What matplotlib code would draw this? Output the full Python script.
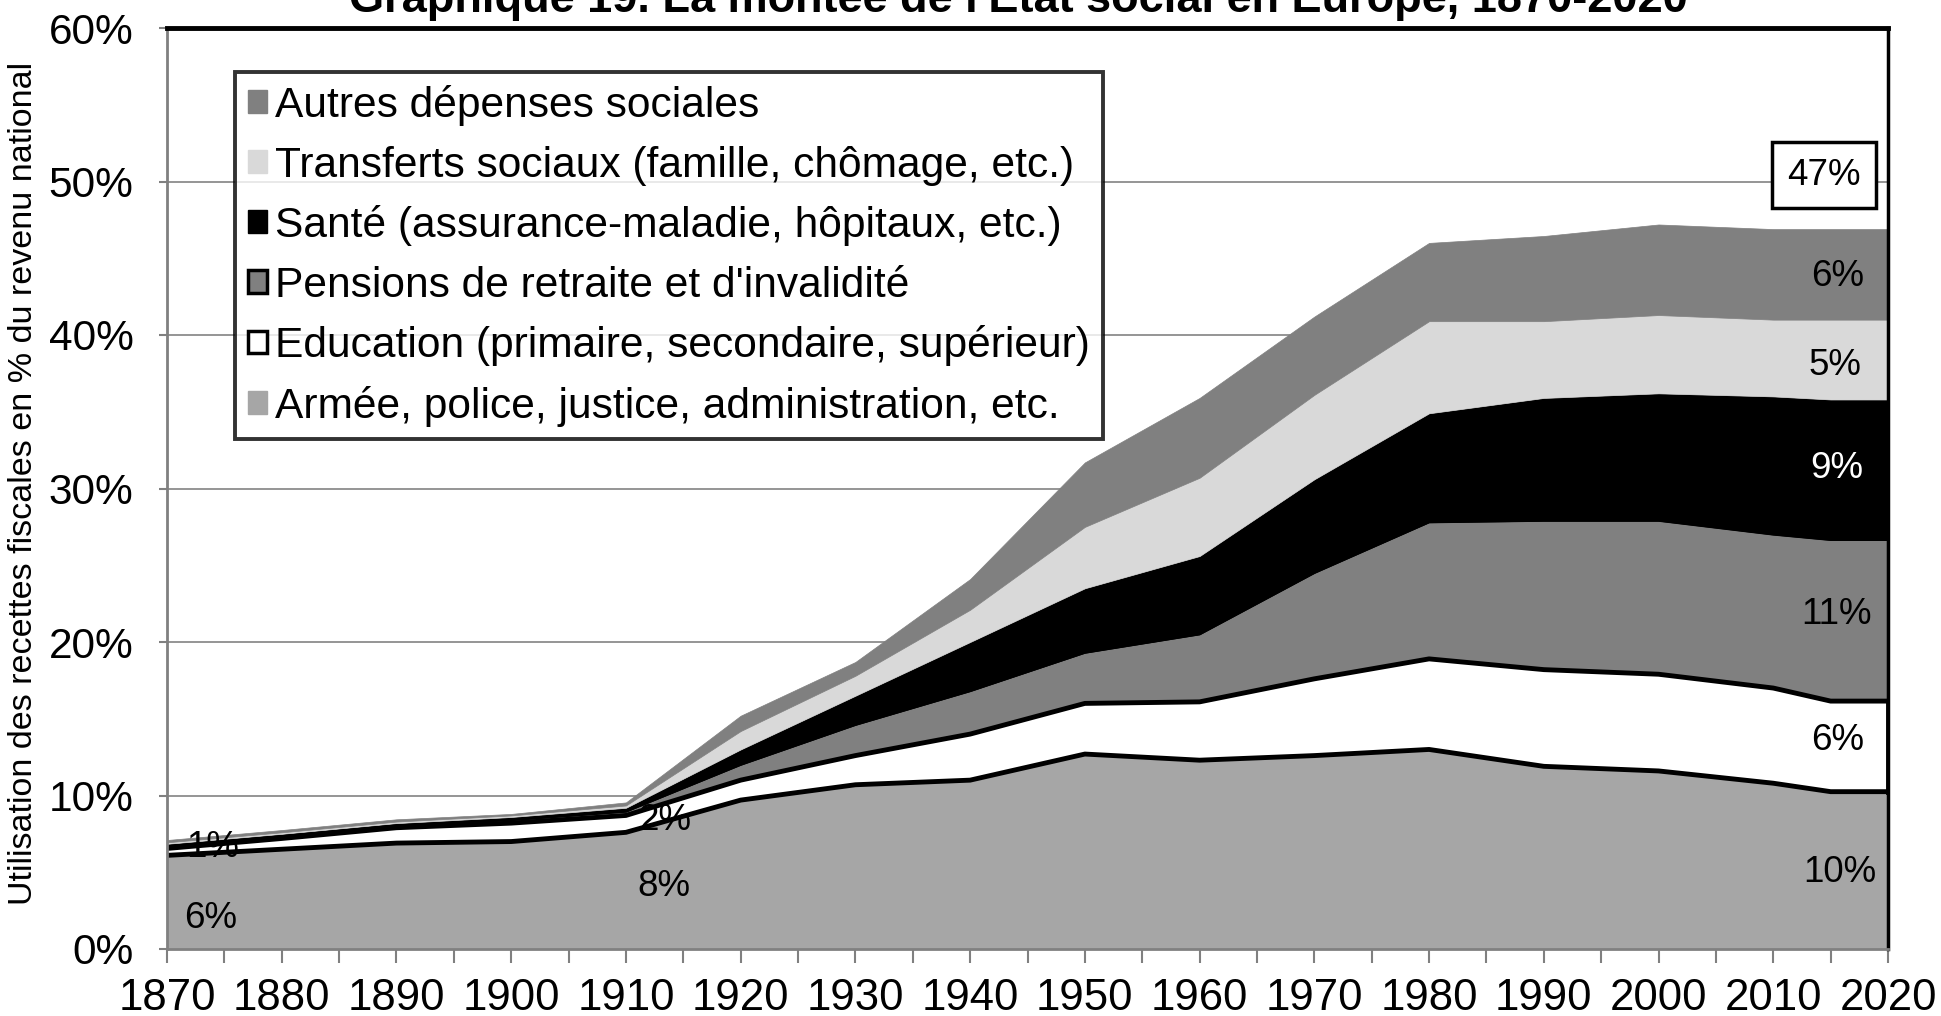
import matplotlib
matplotlib.use("Agg")
import matplotlib.pyplot as plt
from matplotlib.patches import Patch
import numpy as np

plt.rcParams['font.family'] = ['Liberation Sans', 'DejaVu Sans']

# ---------------- data (% of national income) ----------------
years = [1870, 1880, 1890, 1900, 1910, 1920, 1930, 1940, 1950, 1960,
         1970, 1980, 1990, 2000, 2010, 2015, 2020]
armee      = [6.1, 6.5, 6.9, 7.0, 7.6, 9.7, 10.7, 11.0, 12.7, 12.3, 12.6, 13.0, 11.9, 11.6, 10.8, 10.25, 10.25]
education  = [0.45, 0.7, 1.0, 1.2, 1.1, 1.3, 1.9, 3.0, 3.3, 3.8, 5.0, 5.9, 6.3, 6.3, 6.2, 5.9, 5.9]
pensions   = [0.15, 0.15, 0.15, 0.2, 0.25, 1.0, 2.0, 2.8, 3.3, 4.4, 6.9, 8.9, 9.7, 10.0, 10.0, 10.5, 10.5]
sante      = [0.15, 0.15, 0.15, 0.2, 0.25, 1.0, 1.9, 3.2, 4.2, 5.1, 6.1, 7.1, 8.0, 8.3, 9.0, 9.15, 9.15]
transferts = [0.1, 0.1, 0.1, 0.1, 0.15, 1.2, 1.3, 2.1, 4.0, 5.1, 5.5, 6.0, 5.0, 5.1, 5.0, 5.2, 5.2]
autres     = [0.15, 0.15, 0.15, 0.1, 0.2, 1.0, 0.9, 2.0, 4.2, 5.2, 5.1, 5.1, 5.55, 5.9, 5.9, 5.9, 5.9]

series_names = ["Armée, police, justice, administration, etc.",
                "Education (primaire, secondaire, supérieur)",
                "Pensions de retraite et d'invalidité",
                "Santé (assurance-maladie, hôpitaux, etc.)",
                "Transferts sociaux (famille, chômage, etc.)",
                "Autres dépenses sociales"]

# annotations: (text, year, value, colour)
annotations = [("6%", 1873.8, 2.0, "black"), ("1%", 1874.0, 6.6, "black"),
               ("8%", 1913.3, 4.1, "black"), ("2%", 1913.4, 8.4, "black"),
               ("10%", 2015.8, 5.0, "black"), ("6%", 2015.6, 13.6, "black"),
               ("11%", 2015.5, 21.8, "black"), ("9%", 2015.5, 31.3, "white"),
               ("5%", 2015.4, 38.0, "black"), ("6%", 2015.6, 43.8, "black")]
total_label = ("47%", 2014.4, 50.4)

title = "Graphique 19. La montée de l'Etat social en Europe, 1870-2020"
ylabel = "Utilisation des recettes fiscales en % du revenu national"

# ---------------- figure ----------------
W, H = 1941, 1016
fig = plt.figure(figsize=(W / 100, H / 100), dpi=100)
ax = fig.add_axes([167 / W, 1 - 949 / H, (1888 - 167) / W, (949 - 28) / H])

x = np.array(years, dtype=float)
layers = [armee, education, pensions, sante, transferts, autres]
colors = ["#A6A6A6", "#FFFFFF", "#808080", "#000000", "#D9D9D9", "#808080"]
edges = [None, "black", "black", None, None, None]
lws = [0, 3.5, 1.5, 0, 0, 0]

ax.set_xlim(1870, 2020)
ax.set_ylim(0, 60)
ax.set_yticks(np.arange(0, 61, 10))
ax.yaxis.grid(True, color="#8C8C8C", linewidth=1.3, zorder=0)
ax.set_axisbelow(True)

bottom = np.zeros_like(x)
order_z = [3, 4, 3, 3, 3, 3]
for vals, c, ec, lw, z in zip(layers, colors, edges, lws, order_z):
    top = bottom + np.array(vals)
    ax.fill_between(x, bottom, top, facecolor=c, edgecolor=c, linewidth=0.5, zorder=2)
    if ec is not None:
        ax.plot(x, top, color=ec, linewidth=lw, zorder=z, solid_joinstyle='round')
        ax.plot(x, bottom, color=ec, linewidth=lw, zorder=z, solid_joinstyle='round')
        ax.plot([x[-1], x[-1]], [bottom[-1], top[-1]], color=ec, linewidth=lw, zorder=z)
    bottom = top

# ticks
ax.set_xticks(np.arange(1870, 2021, 5), minor=False)
ax.set_xticklabels([str(y) if y % 10 == 0 else "" for y in range(1870, 2021, 5)])
ax.tick_params(axis="x", length=10, width=1.5, color="#808080", labelsize=31.5, pad=11)
ax.tick_params(axis="y", length=6, width=1.5, color="#808080", labelsize=30.5, pad=18)
ax.set_yticklabels([f"{v}%" for v in range(0, 61, 10)])

for s in ["top", "right"]:
    ax.spines[s].set_color("black")
ax.spines["top"].set_linewidth(3.5)
ax.spines["right"].set_linewidth(2.5)
ax.spines["left"].set_color("#808080")
ax.spines["left"].set_linewidth(2)
ax.spines["bottom"].set_color("#808080")
ax.spines["bottom"].set_linewidth(2)
for s in ax.spines.values():
    s.set_zorder(6)

ax.set_ylabel(ylabel, fontsize=24.5)
ax.yaxis.set_label_coords(-0.0745, 0.505)

# annotations
for txt, xx, yy, col in annotations:
    ax.text(xx, yy, txt, fontsize=26.5, color=col, ha="center", va="center", zorder=7)
t, xx, yy = total_label
ax.text(xx, yy, t, fontsize=26.5, ha="center", va="center", zorder=7,
        bbox=dict(boxstyle="square,pad=0.42", facecolor="white", edgecolor="black", linewidth=2.5))

# legend
handles = [Patch(facecolor="#808080", edgecolor="#808080"),
           Patch(facecolor="#D9D9D9", edgecolor="#D9D9D9"),
           Patch(facecolor="#000000", edgecolor="#000000"),
           Patch(facecolor="#808080", edgecolor="black", linewidth=2.5),
           Patch(facecolor="#FFFFFF", edgecolor="black", linewidth=2.5),
           Patch(facecolor="#A6A6A6", edgecolor="#A6A6A6")]
labels = series_names[::-1]
leg = ax.legend(handles, labels, loc="upper left", bbox_to_anchor=(0.0395, 0.952),
                borderaxespad=0, fontsize=30.6, frameon=True, fancybox=False,
                handlelength=0.45, handleheight=0.45, handletextpad=0.2,
                labelspacing=0.46, borderpad=0.3)
leg.get_frame().set_edgecolor("black")
leg.get_frame().set_linewidth(2.8)
leg.set_zorder(8)

fig.text(1018 / W, 1 - 12 / H, title, fontsize=32.5, fontweight="bold",
         ha="center", va="baseline")

fig.savefig("out.png", dpi=100)
